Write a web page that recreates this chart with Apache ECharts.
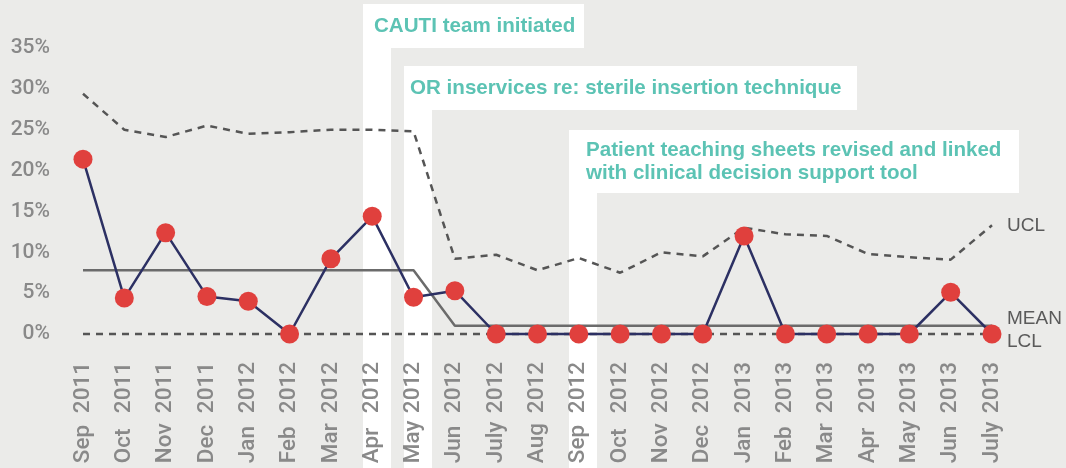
<!DOCTYPE html>
<html>
<head>
<meta charset="utf-8">
<script src="https://cdn.jsdelivr.net/npm/echarts@6/dist/echarts.min.js"></script>
<style>
html,body{margin:0;padding:0;background:#ebebe9;}
#chart{width:1066px;height:468px;}
</style>
</head>
<body>
<div id="chart"></div>
<script>
// ---- data ----
const categories = ['Sep 2011','Oct 2011','Nov 2011','Dec 2011','Jan 2012','Feb 2012','Mar 2012','Apr 2012','May 2012','Jun 2012','July 2012','Aug 2012','Sep 2012','Oct 2012','Nov 2012','Dec 2012','Jan 2013','Feb 2013','Mar 2013','Apr 2013','May 2013','Jun 2013','July 2013'];
const rate = [21.4, 4.4, 12.4, 4.6, 4.0, 0, 9.2, 14.4, 4.5, 5.3, 0, 0, 0, 0, 0, 0, 12.0, 0, 0, 0, 0, 5.1, 0];
const ucl  = [29.4, 25.0, 24.1, 25.5, 24.5, 24.7, 25.0, 25.0, 24.8, 9.2, 9.7, 7.8, 9.3, 7.5, 10.0, 9.5, 13.0, 12.2, 12.0, 9.8, 9.4, 9.1, 13.3];
const mean = [7.8, 7.8, 7.8, 7.8, 7.8, 7.8, 7.8, 7.8, 7.8, 1.0, 1.0, 1.0, 1.0, 1.0, 1.0, 1.0, 1.0, 1.0, 1.0, 1.0, 1.0, 1.0, 1.0];
const lcl  = [0, 0, 0, 0, 0, 0, 0, 0, 0, 0, 0, 0, 0, 0, 0, 0, 0, 0, 0, 0, 0, 0, 0];
const yTicks = [0, 5, 10, 15, 20, 25, 30, 35];
const noteCategories = ['Apr 2012', 'May 2012', 'Sep 2012'];
const noteTexts = ['CAUTI team initiated', 'OR inservices re: sterile insertion technique', 'Patient teaching sheets revised and linked\nwith clinical decision support tool'];

// ---- layout (pixels) ----
const noteLayout = [
  {top: 4,   w: 221, h: 44, padL: 11},
  {top: 66,  w: 453, h: 44, padL: 6},
  {top: 130, w: 450, h: 63, padL: 17}
];
const BAND_W = 28;
const TEAL = '#5cc3b4';
const AXIS_GRAY = '#898989';

const chart = echarts.init(document.getElementById('chart'));
const endLab = (name, off) => ({
  show: true, formatter: name, color: '#5a5a5a', fontSize: 19,
  fontFamily: 'Liberation Sans', distance: 15, offset: off
});
const xFont = {color: AXIS_GRAY, fontFamily: 'Roboto', fontWeight: 500, fontSize: 22.5};
const option = {
  backgroundColor: '#ebebe9',
  animation: false,
  grid: {left: 83, right: 74, top: 48, bottom: 134, containLabel: false, outerBoundsMode: 'none'},
  xAxis: {
    type: 'category', data: categories, boundaryGap: false, z: 5,
    axisLine: {show: false}, axisTick: {show: false}, splitLine: {show: false},
    axisLabel: Object.assign({
      rotate: 90, margin: 28, interval: 0, hideOverlap: false,
      formatter: v => { const p = v.split(' '); return '{m|' + p[0] + '}{y|' + p[1] + '}'; },
      rich: {m: Object.assign({width: 50, align: 'left'}, xFont), y: Object.assign({}, xFont)}
    }, xFont)
  },
  yAxis: {
    type: 'value', min: yTicks[0], max: yTicks[yTicks.length - 1], interval: 5,
    axisLine: {show: false}, axisTick: {show: false}, splitLine: {show: false},
    axisLabel: {margin: 33, color: AXIS_GRAY, fontFamily: 'Roboto', fontWeight: 500, fontSize: 21, formatter: '{value}%'}
  },
  series: [
    {name: 'LCL', type: 'line', data: lcl, symbol: 'none', clip: false, z: 2,
     lineStyle: {color: '#555555', width: 2.5, type: [7, 6]}, endLabel: endLab('LCL', [0, 8])},
    {name: 'UCL', type: 'line', data: ucl, symbol: 'none', clip: false, z: 2,
     lineStyle: {color: '#555555', width: 2.5, type: [7, 6]}, endLabel: endLab('UCL', [0, 0])},
    {name: 'MEAN', type: 'line', data: mean, symbol: 'none', clip: false, z: 3,
     lineStyle: {color: '#6b6b6b', width: 2.5}, endLabel: endLab('MEAN', [0, -7])},
    {name: 'Rate', type: 'line', data: rate, symbol: 'circle', symbolSize: 19, clip: false, z: 4,
     lineStyle: {color: '#2c3063', width: 2.5},
     itemStyle: {color: '#e0403d', borderWidth: 0}}
  ]
};
chart.setOption(option);

const graphics = [];
noteCategories.forEach((c, i) => {
  const px = chart.convertToPixel({xAxisIndex: 0}, categories.indexOf(c));
  const L = noteLayout[i];
  const left = Math.round(px - 9.5);
  graphics.push({type: 'rect', z: -10, shape: {x: left, y: L.top + L.h, width: BAND_W, height: 468 - L.top - L.h}, style: {fill: '#ffffff'}});
  graphics.push({type: 'rect', z: -10, shape: {x: left, y: L.top, width: L.w, height: L.h}, style: {fill: '#ffffff'}});
  graphics.push({type: 'text', z: -9, x: left + L.padL, y: L.top + L.h / 2,
    style: {text: noteTexts[i], fill: TEAL, font: 'bold 20.6px "Liberation Sans"', lineHeight: 23, verticalAlign: 'middle', align: 'left'}});
});
chart.setOption({graphic: graphics});
</script>
</body>
</html>
